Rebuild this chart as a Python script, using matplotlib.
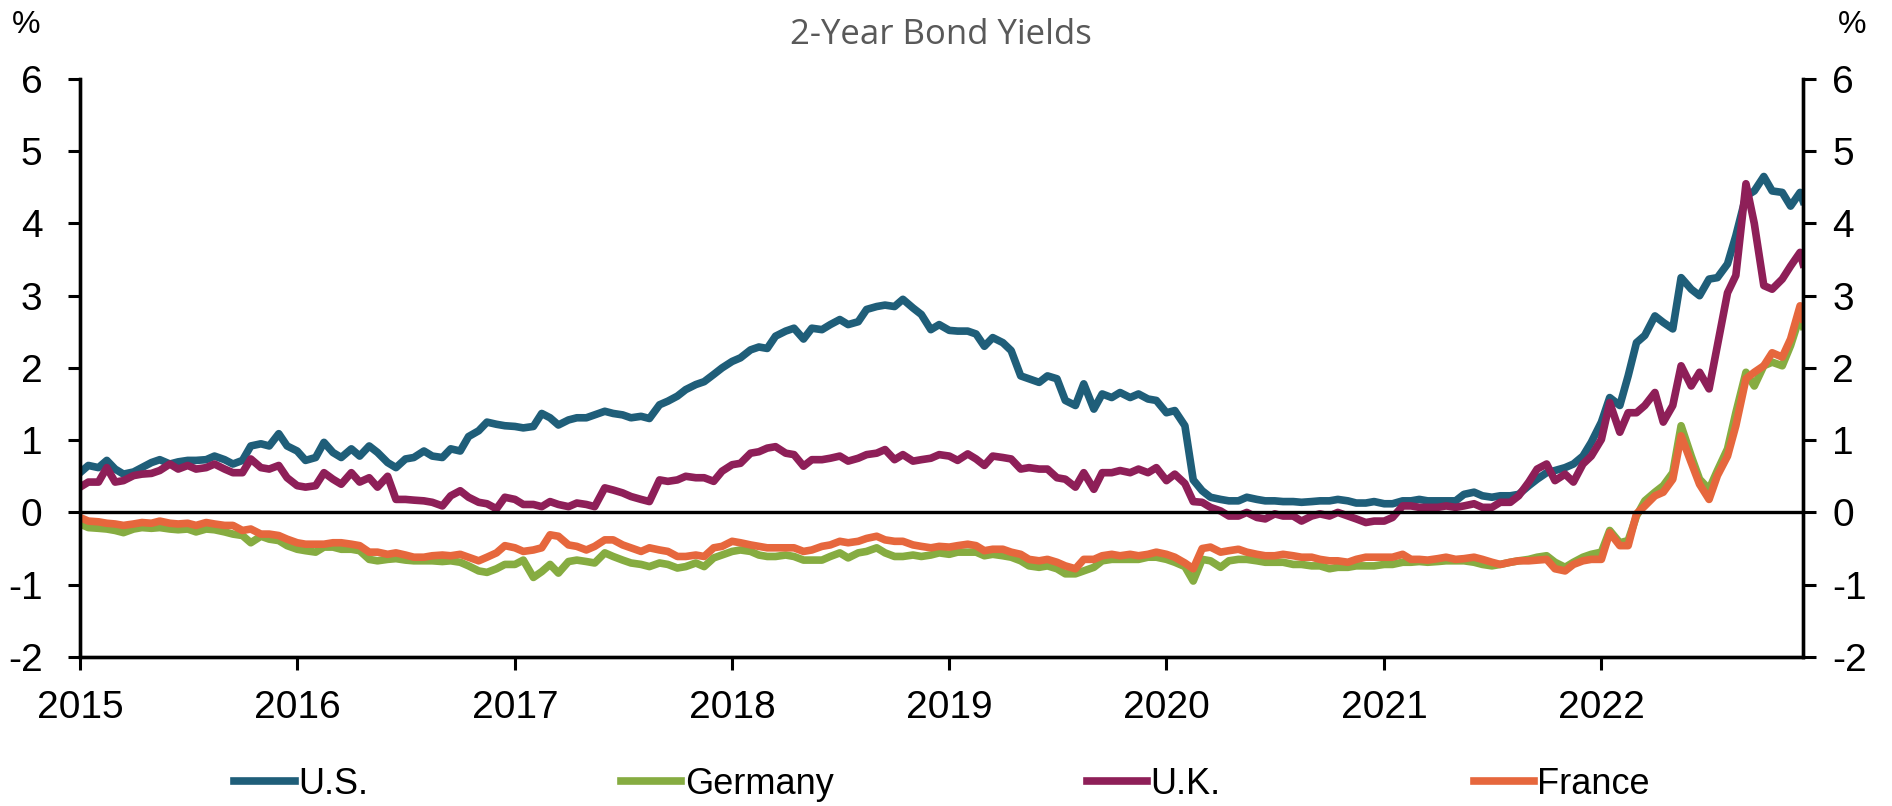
import matplotlib
matplotlib.use('Agg')
import matplotlib.pyplot as plt
import pandas as pd

plt.rcParams['font.family'] = ['Liberation Sans', 'DejaVu Sans']
plt.rcParams['axes.unicode_minus'] = False

# semi-monthly observations (1st and 15th), last one early Dec 2022
dates = list(pd.date_range('2015-01-01', periods=191, freq='SMS')) + [pd.Timestamp('2022-12-06')]

us = [
    0.55, 0.65, 0.62, 0.72, 0.60, 0.53, 0.56, 0.62, 0.69, 0.73, 0.67, 0.70, 0.72, 0.72, 0.73, 0.78, 0.73, 0.67, 0.72, 0.92, 0.95, 0.92, 1.09, 0.92,
    0.85, 0.72, 0.76, 0.97, 0.83, 0.76, 0.88, 0.78, 0.92, 0.83, 0.69, 0.62, 0.74, 0.76, 0.85, 0.78, 0.76, 0.88, 0.85, 1.05, 1.13, 1.25, 1.22, 1.20,
    1.19, 1.17, 1.19, 1.37, 1.31, 1.21, 1.28, 1.31, 1.31, 1.35, 1.40, 1.37, 1.35, 1.31, 1.33, 1.30, 1.49, 1.54, 1.61, 1.70, 1.77, 1.81, 1.91, 2.00,
    2.09, 2.14, 2.25, 2.29, 2.27, 2.44, 2.51, 2.55, 2.40, 2.55, 2.53, 2.60, 2.67, 2.60, 2.64, 2.81, 2.85, 2.87, 2.85, 2.95, 2.83, 2.74, 2.53, 2.60,
    2.52, 2.51, 2.51, 2.47, 2.30, 2.42, 2.35, 2.24, 1.89, 1.85, 1.80, 1.89, 1.85, 1.55, 1.48, 1.78, 1.43, 1.64, 1.59, 1.66, 1.59, 1.64, 1.57, 1.55,
    1.38, 1.41, 1.20, 0.45, 0.30, 0.21, 0.18, 0.16, 0.16, 0.21, 0.18, 0.16, 0.16, 0.15, 0.15, 0.14, 0.15, 0.16, 0.16, 0.18, 0.16, 0.13, 0.13, 0.15,
    0.12, 0.12, 0.16, 0.16, 0.18, 0.16, 0.16, 0.16, 0.16, 0.25, 0.28, 0.23, 0.21, 0.23, 0.23, 0.25, 0.37, 0.46, 0.55, 0.58, 0.62, 0.67, 0.78, 0.97,
    1.25, 1.59, 1.48, 1.89, 2.35, 2.45, 2.72, 2.63, 2.54, 3.25, 3.09, 3.00, 3.23, 3.25, 3.44, 3.83, 4.38, 4.45, 4.65, 4.45, 4.43, 4.24, 4.43, 4.31,
]

germany = [
    -0.16, -0.21, -0.22, -0.23, -0.25, -0.28, -0.23, -0.21, -0.22, -0.21, -0.23, -0.24, -0.23, -0.27, -0.23, -0.24, -0.27, -0.30, -0.32, -0.42, -0.33, -0.37, -0.39, -0.46,
    -0.51, -0.53, -0.55, -0.48, -0.48, -0.51, -0.51, -0.53, -0.65, -0.67, -0.65, -0.64, -0.66, -0.67, -0.67, -0.67, -0.68, -0.67, -0.69, -0.74, -0.81, -0.83, -0.78, -0.72,
    -0.72, -0.66, -0.90, -0.82, -0.72, -0.84, -0.68, -0.66, -0.68, -0.70, -0.56, -0.61, -0.66, -0.70, -0.72, -0.75, -0.70, -0.72, -0.77, -0.75, -0.70, -0.75, -0.63, -0.59,
    -0.54, -0.52, -0.54, -0.59, -0.61, -0.61, -0.59, -0.61, -0.66, -0.66, -0.66, -0.61, -0.56, -0.63, -0.56, -0.54, -0.49, -0.56, -0.61, -0.61, -0.59, -0.61, -0.59, -0.56,
    -0.58, -0.55, -0.55, -0.55, -0.60, -0.58, -0.60, -0.62, -0.67, -0.74, -0.76, -0.74, -0.78, -0.85, -0.85, -0.81, -0.76, -0.67, -0.65, -0.65, -0.65, -0.65, -0.62, -0.62,
    -0.65, -0.69, -0.75, -0.95, -0.65, -0.67, -0.76, -0.67, -0.65, -0.65, -0.67, -0.69, -0.69, -0.69, -0.72, -0.72, -0.74, -0.74, -0.78, -0.76, -0.76, -0.74, -0.74, -0.74,
    -0.72, -0.72, -0.69, -0.69, -0.68, -0.69, -0.68, -0.67, -0.67, -0.67, -0.69, -0.72, -0.74, -0.72, -0.69, -0.67, -0.65, -0.62, -0.60, -0.69, -0.76, -0.69, -0.62, -0.58,
    -0.55, -0.25, -0.42, -0.39, -0.05, 0.16, 0.28, 0.37, 0.55, 1.20, 0.78, 0.46, 0.32, 0.58, 0.88, 1.38, 1.94, 1.75, 2.03, 2.08, 2.03, 2.31, 2.72, 2.58,
]

uk = [
    0.35, 0.42, 0.42, 0.62, 0.42, 0.44, 0.51, 0.53, 0.54, 0.58, 0.67, 0.60, 0.65, 0.60, 0.62, 0.67, 0.60, 0.55, 0.55, 0.74, 0.62, 0.60, 0.65, 0.48,
    0.37, 0.35, 0.37, 0.55, 0.46, 0.39, 0.55, 0.42, 0.48, 0.35, 0.50, 0.18, 0.18, 0.17, 0.16, 0.14, 0.09, 0.23, 0.30, 0.21, 0.14, 0.12, 0.05, 0.21,
    0.18, 0.11, 0.11, 0.08, 0.15, 0.11, 0.08, 0.13, 0.11, 0.08, 0.34, 0.31, 0.27, 0.22, 0.18, 0.15, 0.45, 0.43, 0.45, 0.50, 0.48, 0.48, 0.43, 0.57,
    0.66, 0.68, 0.82, 0.84, 0.89, 0.91, 0.82, 0.80, 0.64, 0.73, 0.73, 0.75, 0.78, 0.71, 0.75, 0.80, 0.82, 0.87, 0.73, 0.80, 0.71, 0.73, 0.75, 0.80,
    0.78, 0.72, 0.81, 0.74, 0.65, 0.78, 0.76, 0.74, 0.60, 0.62, 0.60, 0.60, 0.48, 0.46, 0.35, 0.55, 0.32, 0.55, 0.55, 0.58, 0.55, 0.60, 0.55, 0.62,
    0.44, 0.53, 0.40, 0.15, 0.14, 0.07, 0.02, -0.05, -0.05, 0.00, -0.07, -0.09, -0.02, -0.05, -0.05, -0.12, -0.05, -0.02, -0.05, 0.00, -0.05, -0.09, -0.14, -0.12,
    -0.12, -0.07, 0.09, 0.09, 0.07, 0.07, 0.07, 0.09, 0.07, 0.09, 0.12, 0.07, 0.07, 0.14, 0.14, 0.23, 0.42, 0.60, 0.67, 0.44, 0.53, 0.42, 0.67, 0.78,
    1.01, 1.52, 1.11, 1.38, 1.38, 1.48, 1.66, 1.25, 1.48, 2.03, 1.75, 1.94, 1.71, 2.31, 3.04, 3.28, 4.55, 4.00, 3.14, 3.09, 3.23, 3.41, 3.60, 3.44,
]

france = [
    -0.07, -0.12, -0.13, -0.15, -0.16, -0.18, -0.16, -0.14, -0.15, -0.12, -0.15, -0.16, -0.15, -0.18, -0.14, -0.16, -0.18, -0.18, -0.25, -0.23, -0.30, -0.30, -0.32, -0.37,
    -0.42, -0.44, -0.44, -0.44, -0.42, -0.42, -0.44, -0.46, -0.55, -0.55, -0.58, -0.56, -0.59, -0.62, -0.62, -0.60, -0.59, -0.60, -0.58, -0.62, -0.67, -0.62, -0.56, -0.46,
    -0.49, -0.54, -0.52, -0.49, -0.31, -0.33, -0.45, -0.47, -0.52, -0.47, -0.38, -0.38, -0.45, -0.49, -0.54, -0.49, -0.52, -0.54, -0.61, -0.61, -0.59, -0.61, -0.49, -0.47,
    -0.40, -0.42, -0.45, -0.47, -0.49, -0.49, -0.49, -0.49, -0.54, -0.52, -0.47, -0.45, -0.40, -0.42, -0.40, -0.36, -0.33, -0.38, -0.40, -0.40, -0.45, -0.47, -0.49, -0.47,
    -0.48, -0.46, -0.44, -0.46, -0.53, -0.51, -0.51, -0.55, -0.58, -0.65, -0.67, -0.65, -0.69, -0.74, -0.78, -0.65, -0.65, -0.60, -0.58, -0.60, -0.58, -0.60, -0.58, -0.55,
    -0.58, -0.62, -0.70, -0.78, -0.50, -0.48, -0.55, -0.53, -0.51, -0.55, -0.58, -0.60, -0.60, -0.58, -0.60, -0.62, -0.62, -0.65, -0.67, -0.67, -0.69, -0.65, -0.62, -0.62,
    -0.62, -0.62, -0.58, -0.65, -0.65, -0.66, -0.64, -0.62, -0.65, -0.64, -0.62, -0.65, -0.69, -0.72, -0.69, -0.67, -0.67, -0.66, -0.65, -0.78, -0.81, -0.72, -0.67, -0.65,
    -0.65, -0.28, -0.46, -0.46, -0.02, 0.09, 0.23, 0.28, 0.46, 1.06, 0.69, 0.39, 0.18, 0.51, 0.78, 1.20, 1.85, 1.94, 2.03, 2.21, 2.15, 2.40, 2.86, 2.68,
]

series = [('U.S.', us, '#1F5E79'), ('Germany', germany, '#86AC41'),
          ('U.K.', uk, '#8E1F58'), ('France', france, '#E6673D')]
years = list(range(2015, 2023))
yticks = list(range(-2, 7))

fig = plt.figure(figsize=(18.92, 8.06), dpi=100)
ax = fig.add_axes([0.0423, 0.185, 0.9107, 0.717])

handles = []
for name, vals, col in series:
    ln, = ax.plot(dates, vals, color=col, lw=5.5, label=name, solid_joinstyle='round')
    handles.append(ln)

ax.axhline(0, color='black', lw=2.4, zorder=5)

ax.set_ylim(-2, 6)
ax.set_yticks(yticks)
ax.set_xlim(dates[0], dates[-1])
ax.set_xticks([pd.Timestamp(f'{y}-01-01') for y in years])
ax.set_xticklabels([str(y) for y in years])

# right-hand copy of the value axis
ax2 = ax.twinx()
ax2.set_ylim(-2, 6)
ax2.set_yticks(yticks)

for a in (ax, ax2):
    for s in ['left', 'right', 'bottom']:
        a.spines[s].set_linewidth(2.4)
    a.spines['top'].set_visible(False)

ax.tick_params(axis='y', direction='out', length=9, width=2.2, labelsize=28, pad=18)
ax2.tick_params(axis='y', direction='out', length=9, width=2.2, labelsize=28, pad=12)
ax.tick_params(axis='x', direction='out', length=9, width=2.2, labelsize=28, pad=15)

fig.text(26 / 1892, 1 - 25 / 806, '%', fontsize=23, ha='center', va='center')
fig.text(1852 / 1892, 1 - 25 / 806, '%', fontsize=23, ha='center', va='center')
fig.text(941 / 1892, 1 - 35 / 806, '2-Year Bond Yields', fontsize=25, color='#595959',
         family='Open Sans', ha='center', va='center')

fig.legend(handles, [h.get_label() for h in handles], loc='center',
           bbox_to_anchor=(0.498, 0.027), ncol=4, frameon=False, fontsize=26,
           handlelength=1.67, handletextpad=0.1, columnspacing=7)

fig.savefig('out.png', dpi=100)
